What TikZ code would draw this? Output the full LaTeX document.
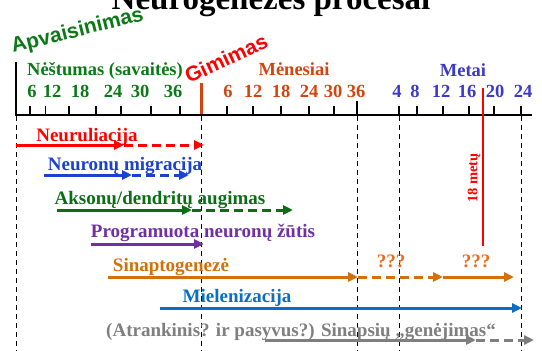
\documentclass[tikz,border=0pt]{standalone}
\usepackage{fontspec}
\setmainfont{Liberation Serif}
\newfontfamily\headsans{Liberation Sans}
\usetikzlibrary{arrows.meta}

\definecolor{nestgreen}{HTML}{0B7A16}
\definecolor{mongold}{HTML}{D2450F}
\definecolor{yearblue}{HTML}{3A3AC8}
\definecolor{migblue}{HTML}{1C40D0}
\definecolor{axgreen}{HTML}{0A6E14}
\definecolor{progpurple}{HTML}{7030A0}
\definecolor{synorange}{HTML}{D3700C}
\definecolor{qorange}{HTML}{F26A1B}
\definecolor{myelblue}{HTML}{0A6FC4}
\definecolor{prungray}{HTML}{7F7F7F}

\begin{document}
\begin{tikzpicture}[x=1pt,y=-1pt,
			lbl/.style={font=\bfseries\fontsize{19}{21}\selectfont, inner sep=0pt, anchor=base},
			num/.style={font=\bfseries\fontsize{18.5}{20}\selectfont, inner sep=0pt, anchor=base},
			tilt/.style={font=\headsans\bfseries\fontsize{21}{23}\selectfont, inner sep=0pt, anchor=base west},
			arrow/.style={line width=3pt, -{Triangle[length=10pt,width=9pt]}},
			dasharrow/.style={arrow, dash pattern=on 9pt off 5pt},
			vline/.style={line width=0.8pt, dash pattern=on 5pt off 4pt}]
			
			\clip (0,0) rectangle (542,351);
			
			\node[inner sep=0pt, anchor=base, font=\bfseries\fontsize{33}{36}\selectfont] (title) at (271,9) {Neurogenezės procesai};
			
			% time axis
			\coordinate (ax0) at (16,115);
			\coordinate (ax1) at (532,115);
			\coordinate (lt) at (16,62);
			\draw[line width=1.6pt] (ax0) -- (ax1);
			\draw[line width=2.4pt] (lt) -- (16,116);
			\foreach \x in {30,45.7,69,96,121,151,180,227,253,281,309,334,399,417,443,469,494,521}
				\draw[line width=1.2pt] (\x,115) -- (\x,106);
			\draw[line width=1.2pt] (357,115) -- (357,101);
			\draw[mongold, line width=3pt] (201,83) -- (201,114);
			
			\foreach \x in {16,201,357,399,521}
				\draw[vline] (\x,116) -- (\x,351);
			
			\node[tilt, text=nestgreen, rotate=14] (fert) at (13,53) {Apvaisinimas};
			\node[tilt, text=red, rotate=25] (birth) at (189,84) {Gimimas};
			
			\node[num, text=nestgreen] (weeks) at (105,75) {Nėštumas (savaitės)};
			\node[num, text=mongold] (months) at (294,75) {Mėnesiai};
			\node[num, text=yearblue] (years) at (463,76) {Metai};
			
			\foreach \x/\t in {32/6,52/12,80/18,113/24,140/30,173/36}
				\node[num, text=nestgreen] (w\t) at (\x,97) {\t};
			\foreach \x/\t in {228/6,253/12,281/18,309/24,333/30,356/36}
				\node[num, text=mongold] (m\t) at (\x,97) {\t};
			\foreach \x/\t in {397/4,415/8,441/12,467/16,495/20,523/24}
				\node[num, text=yearblue] (y\t) at (\x,97) {\t};
			
			% 18 years
			\coordinate (adtop) at (483,88);
			\coordinate (adbot) at (483,246);
			\draw[red, line width=1.6pt] (adtop) -- (adbot);
			\node[inner sep=0pt, text=red, rotate=90, font=\bfseries\fontsize{14.5}{16}\selectfont] (adult) at (474,178) {18 metų};
			
			% processes
			\node[lbl, text=red] (neur) at (87,141) {Neuruliacija};
			\coordinate (neur1) at (16,145);
			\coordinate (neur2) at (124,145);
			\coordinate (neur3) at (204,145);
			\draw[arrow, red] (neur1) -- (neur2);
			\draw[dasharrow, red] (neur2) -- (neur3);
			
			\node[lbl, text=migblue] (migr) at (125,170) {Neuronų migracija};
			\coordinate (migr1) at (44,175);
			\coordinate (migr2) at (132,175);
			\coordinate (migr3) at (189,175);
			\draw[arrow, migblue] (migr1) -- (migr2);
			\draw[dasharrow, migblue] (migr2) -- (migr3);
			
			\node[lbl, text=axgreen] (axon) at (160,204) {Aksonų/dendritų augimas};
			\coordinate (axon1) at (57,210);
			\coordinate (axon2) at (192,210);
			\coordinate (axon3) at (293,210);
			\draw[arrow, axgreen] (axon1) -- (axon2);
			\draw[dasharrow, axgreen] (axon2) -- (axon3);
			
			\node[lbl, text=progpurple] (prog) at (203,237) {Programuota neuronų žūtis};
			\coordinate (prog1) at (91,244);
			\coordinate (prog2) at (204,244);
			\draw[arrow, progpurple] (prog1) -- (prog2);
			
			\node[lbl, text=synorange] (syn) at (171,271) {Sinaptogenezė};
			\node[lbl, text=qorange] (q1) at (391,267) {???};
			\node[lbl, text=qorange] (q2) at (476,267) {???};
			\coordinate (syn1) at (108,277);
			\coordinate (syn2) at (358,277);
			\coordinate (syn3) at (443,277);
			\coordinate (syn4) at (514,277);
			\draw[arrow, synorange] (syn1) -- (syn2);
			\draw[dasharrow, synorange] (syn2) -- (syn3);
			\draw[arrow, synorange] (syn3) -- (syn4);
			
			\node[lbl, text=myelblue] (myel) at (237,302) {Mielenizacija};
			\coordinate (myel1) at (160,308);
			\coordinate (myel2) at (522,308);
			\draw[arrow, myelblue] (myel1) -- (myel2);
			
			\node[lbl, text=prungray] (prun) at (301,336) {(Atrankinis? ir pasyvus?) Sinapsių „genėjimas“};
			\coordinate (prun1) at (265,340);
			\coordinate (prun2) at (476,340);
			\coordinate (prun3) at (534,340);
			\draw[arrow, prungray] (prun1) -- (prun2);
			\draw[dasharrow, prungray] (prun2) -- (prun3);
			
		\end{tikzpicture}
\end{document}
